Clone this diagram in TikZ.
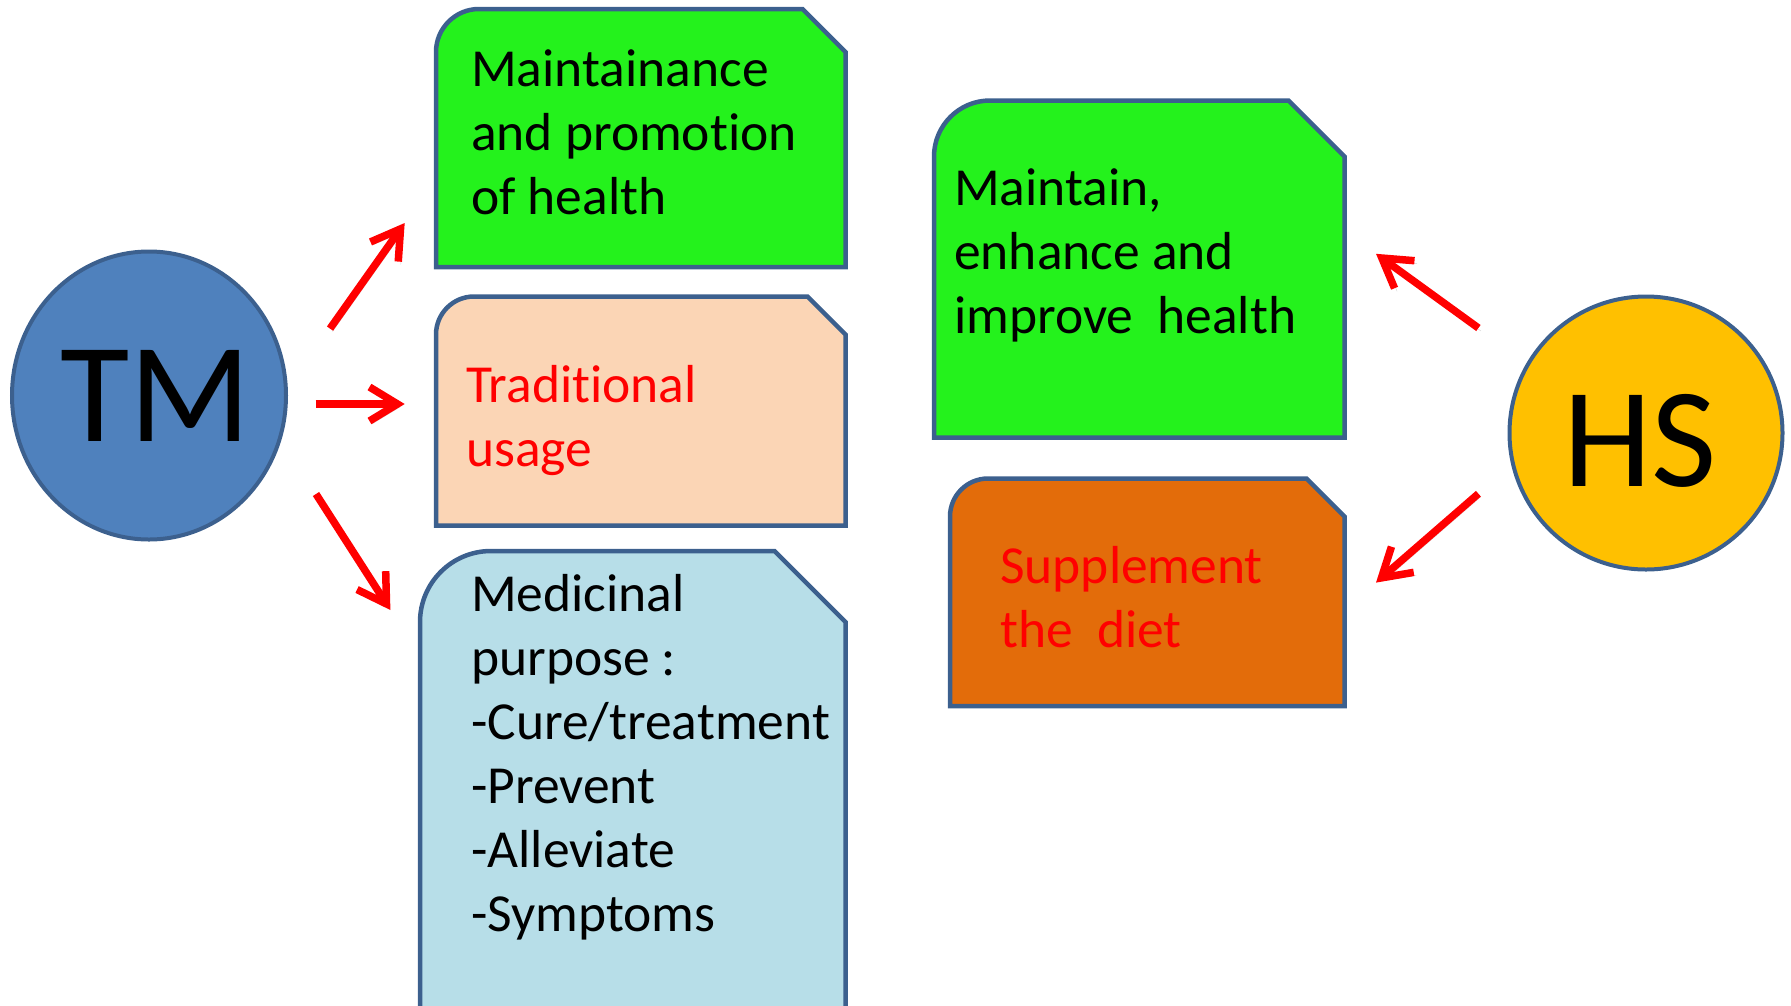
\documentclass[tikz,border=0pt]{standalone}
\usepackage{fontspec}
\setmainfont{Carlito}[Ligatures=NoCommon]
\usepackage{tikz}
\usetikzlibrary{positioning, arrows.meta, shapes.geometric}

\definecolor{edgeblue}{RGB}{60,96,142}
\definecolor{tmblue}{RGB}{79,129,189}
\definecolor{hsgold}{RGB}{255,192,0}
\definecolor{healthgreen}{RGB}{36,242,28}
\definecolor{peach}{RGB}{251,213,181}
\definecolor{paleblue}{RGB}{183,222,232}
\definecolor{dietorange}{RGB}{227,108,10}

\begin{document}
\begin{tikzpicture}[
  x = 1pt,
  y = -1pt,
  hub/.style = {
    ellipse,
    draw = edgeblue,
    line width = 4pt,
    inner sep = 0pt,
    font = \fontsize{142}{170}\selectfont
  },
  box/.style = {
    draw = edgeblue,
    line width = 4.5pt
  },
  boxtext/.style = {
    anchor = north west,
    inner sep = 0pt,
    align = left,
    font = \fontsize{53.5}{64}\selectfont
  },
  arrow/.style = {
    -{Straight Barb[length=28pt, width=34pt]},
    red,
    line width = 7.5pt,
    preaction = {draw = black!18, transform canvas = {shift = {(2.5pt, -3pt)}}}
  },
  ]
  \useasboundingbox (0, 0) rectangle (1791, 1005);
  \clip (0, 0) rectangle (1791, 1005);

  % Boxes: one rounded corner, one snipped corner.
  \foreach \xa/\ya/\xb/\yb/\rad/\tint in {
      436/9/845.5/267/43/healthgreen,
      436/296.5/845.5/525.5/38/peach,
      420/551/845.5/1040/71/paleblue,
      934/100.5/1344.5/437.5/56/healthgreen,
      950/478.5/1344.5/706/38/dietorange} {
    \draw[box, fill=\tint] (\xa, \yb) -- (\xa, \ya+\rad)
      .. controls (\xa, \ya+0.448*\rad) and (\xa+0.448*\rad, \ya) .. (\xa+\rad, \ya)
      -- (\xb-\rad, \ya) -- (\xb, \ya+\rad) -- (\xb, \yb) -- cycle;
  }

  % Texts in the boxes.
  \node[boxtext] (promote) at (471, 41) {\strut Maintainance\\and promotion\\of health};
  \node[boxtext, red] (usage) at (466, 357) {\strut Traditional\\usage};
  \node[boxtext] (medicinal) at (471, 566)
    {\strut Medicinal\\purpose :\\-Cure/treatment\\-Prevent\\-Alleviate\\-Symptoms};
  \node[boxtext] (improve) at (954, 160.5) {\strut Maintain,\\enhance and\\improve\ \ health};
  \node[boxtext, red] (diet) at (1000, 538) {\strut Supplement\\the\ \ diet};

  % The two hubs.
  \node[hub, fill=tmblue, minimum width=274pt, minimum height=288pt] (TM) at (149, 395.5)
    {\makebox[0pt]{\hspace*{14pt}TM}};
  \node[hub, fill=hsgold, minimum width=273pt, minimum height=273pt, text height=108pt] (HS) at (1646, 433)
    {\makebox[0pt]{HS\hspace*{12pt}}};

  % Arrow ends.
  \coordinate (TM-1) at (330, 328.6);
  \coordinate (TM-2) at (315.7, 404);
  \coordinate (TM-3) at (316, 494);
  \coordinate (promote-in) at (404.7, 223);
  \coordinate (usage-in) at (404.7, 404);
  \coordinate (medicinal-in) at (390.4, 610);
  \coordinate (HS-1) at (1478.4, 328);
  \coordinate (HS-2) at (1478.4, 493.7);
  \coordinate (improve-in) at (1376, 253.8);
  \coordinate (diet-in) at (1376, 582.6);

  % Arrows.
  \foreach \source/\dest in {TM-1/promote-in, TM-2/usage-in, TM-3/medicinal-in,
      HS-1/improve-in, HS-2/diet-in} {
    \draw[arrow] (\source) -- (\dest);
  }
\end{tikzpicture}
\end{document}
